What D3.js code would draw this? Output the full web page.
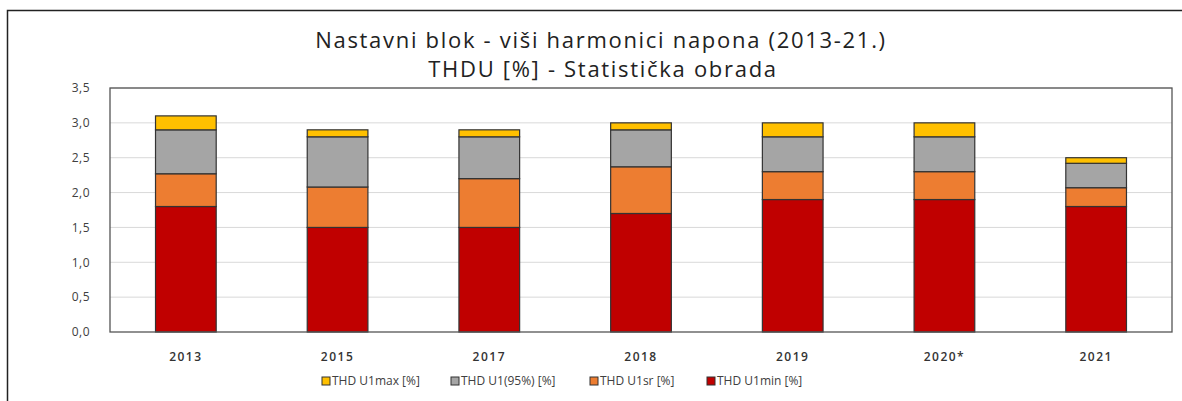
<!DOCTYPE html>
<html>
<head>
<meta charset="utf-8">
<script src="https://cdn.jsdelivr.net/npm/d3@7"></script>
<style>
  body { margin: 0; background: #fff; }
  svg { display: block; font-family: "Open Sans", sans-serif; }
</style>
</head>
<body>
<svg id="chart" width="1182" height="401"></svg>
<script>
// categories and stacked segment values (THD U, %)
var years = ["2013", "2015", "2017", "2018", "2019", "2020*", "2021"];
var u1min = [1.80, 1.50, 1.50, 1.70, 1.90, 1.90, 1.80];
var u1sr = [0.47, 0.58, 0.70, 0.67, 0.40, 0.40, 0.27];
var u195 = [0.63, 0.72, 0.60, 0.53, 0.50, 0.50, 0.35];
var u1max = [0.20, 0.10, 0.10, 0.10, 0.20, 0.20, 0.08];
var yTicks = [0, 0.5, 1, 1.5, 2, 2.5, 3, 3.5];

var keys = ["min", "sr", "p95", "max"];
var labels = {
    max: "THD U1max [%]",
    p95: "THD U1(95%) [%]",
    sr: "THD U1sr [%]",
    min: "THD U1min [%]"
};
var colors = { min: "#c00000", sr: "#ed7d31", p95: "#a5a5a5", max: "#ffc000" };

var data = years.map(function (y, i) {
    return { year: y, min: u1min[i], sr: u1sr[i], p95: u195[i], max: u1max[i] };
});

var svg = d3.select("#chart"),
    margin = { top: 88, right: 10, bottom: 69, left: 110 },
    width = +svg.attr("width") - margin.left - margin.right,
    height = +svg.attr("height") - margin.top - margin.bottom;

// outer chart frame (right side is cut off in the original)
svg.append("path")
    .attr("d", "M7.5,401 V10.5 H1182")
    .attr("fill", "none")
    .attr("stroke", "#222")
    .attr("stroke-width", 1.5);

svg.append("text")
    .attr("x", 601).attr("y", 48)
    .attr("text-anchor", "middle")
    .attr("font-size", 22)
    .attr("letter-spacing", 1.7)
    .attr("fill", "#222")
    .text("Nastavni blok - viši harmonici napona (2013-21.)");
svg.append("text")
    .attr("x", 603).attr("y", 77)
    .attr("text-anchor", "middle")
    .attr("font-size", 22)
    .attr("letter-spacing", 1.7)
    .attr("fill", "#222")
    .text("THDU [%] - Statistička obrada");

var g = svg.append("g").attr("transform", "translate(" + margin.left + "," + margin.top + ")");

var x = d3.scaleBand()
    .domain(years)
    .range([0, width])
    .paddingInner(0.6)
    .paddingOuter(0.3);

var y = d3.scaleLinear()
    .domain([0, 3.5])
    .range([height, 0]);

// gridlines
g.append("g")
    .selectAll("line")
    .data(yTicks.slice(1))
    .enter().append("line")
    .attr("x1", 0).attr("x2", width)
    .attr("y1", function (d) { return y(d); })
    .attr("y2", function (d) { return y(d); })
    .attr("stroke", "#d9d9d9")
    .attr("stroke-width", 1);

g.append("g")
    .selectAll("g")
    .data(d3.stack().keys(keys)(data))
    .enter().append("g")
    .attr("fill", function (d) { return colors[d.key]; })
    .selectAll("rect")
    .data(function (d) { return d; })
    .enter().append("rect")
    .attr("x", function (d) { return x(d.data.year); })
    .attr("y", function (d) { return y(d[1]); })
    .attr("width", x.bandwidth())
    .attr("height", function (d) { return y(d[0]) - y(d[1]); })
    .attr("stroke", "#333")
    .attr("stroke-width", 1.2);

// plot area frame
g.append("rect")
    .attr("x", 0).attr("y", 0)
    .attr("width", width).attr("height", height)
    .attr("fill", "none")
    .attr("stroke", "#555")
    .attr("stroke-width", 1.3);

var fmt = function (d) { return d3.format(".1f")(d).replace(".", ","); };

var yAxis = g.append("g")
    .call(d3.axisLeft(y).tickValues(yTicks).tickFormat(fmt).tickSize(0).tickPadding(20));
yAxis.select(".domain").remove();
yAxis.selectAll("text")
    .attr("font-family", "'Open Sans', sans-serif")
    .attr("font-size", 12)
    .attr("letter-spacing", 0.5)
    .attr("fill", "#404040");

var xAxis = g.append("g")
    .attr("transform", "translate(0," + height + ")")
    .call(d3.axisBottom(x).tickSize(0).tickPadding(20));
xAxis.select(".domain").remove();
xAxis.selectAll("text")
    .attr("font-family", "'Open Sans', sans-serif")
    .attr("font-size", 12)
    .attr("font-weight", 600)
    .attr("letter-spacing", 1.5)
    .attr("fill", "#333");

// legend
var legendX = [322, 451, 590, 707];
var legend = svg.append("g")
    .selectAll("g")
    .data(["max", "p95", "sr", "min"])
    .enter().append("g")
    .attr("transform", function (d, i) { return "translate(" + legendX[i] + ",381)"; });

legend.append("rect")
    .attr("x", 0).attr("y", -4)
    .attr("width", 8).attr("height", 8)
    .attr("fill", function (d) { return colors[d]; })
    .attr("stroke", "#333");

legend.append("text")
    .attr("x", 10)
    .attr("dy", "0.35em")
    .attr("font-size", 12)
    .attr("fill", "#404040")
    .text(function (d) { return labels[d]; });
</script>
</body>
</html>
